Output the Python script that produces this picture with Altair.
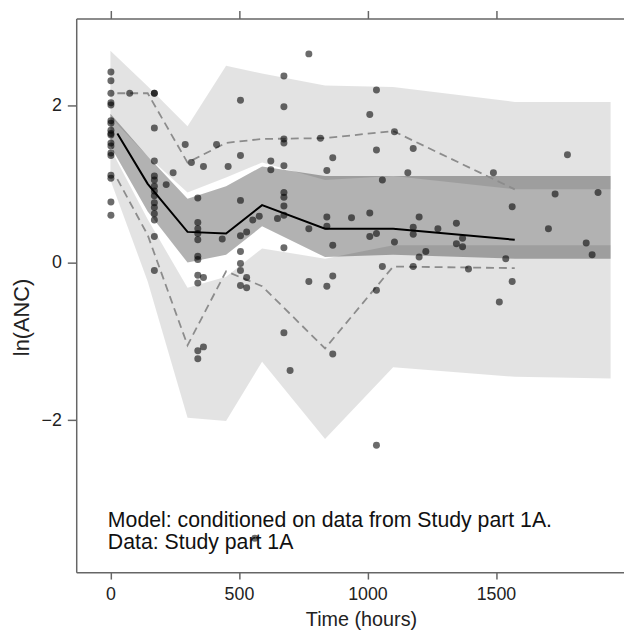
import altair as alt
import pandas as pd

# ---- simulated prediction bands (VPC) ----
band_time = [0, 145, 300, 450, 590, 835, 1100, 1573, 1946]
upper_pi_hi = [2.69, 2.24, 1.73, 2.50, 2.40, 2.25, 2.23, 2.04, 2.04]
upper_pi_lo = [1.85, 1.35, 0.89, 1.08, 1.27, 1.05, 1.10, 0.93, 0.93]
median_ci_hi = [1.89, 1.35, 0.81, 0.97, 1.22, 1.10, 1.10, 1.10, 1.10]
median_ci_lo = [1.48, 0.65, 0.00, 0.10, 0.46, 0.07, 0.10, 0.05, 0.05]
lower_pi_hi = [1.45, 0.55, -0.32, -0.18, 0.18, 0.05, 0.22, 0.22, 0.22]
lower_pi_lo = [1.05, -0.24, -1.97, -2.01, -1.26, -2.24, -1.33, -1.45, -1.47]

# ---- observed percentiles per time bin ----
bin_time = [27, 145, 300, 450, 590, 835, 1100, 1573]
obs_median = [1.64, 1.00, 0.39, 0.37, 0.73, 0.43, 0.43, 0.29]
obs_p95 = [2.15, 2.15, 1.27, 1.52, 1.57, 1.58, 1.67, 0.93]
obs_p05 = [1.06, 0.35, -1.05, -0.11, -0.30, -1.09, -0.05, -0.07]

# ---- observations ----
obs_time = (
    [2] * 18 + [75] + [171] * 15 + [217, 244, 291, 315] + [340] * 11 + [362] * 3
    + [413, 458, 435] + [506] * 8 + [530] * 3 + [554, 579, 624, 624, 650]
    + [675] * 11 + [699] + [772] * 3 + [817] + [842] * 4 + [865] * 4 + [938]
    + [1009] * 3 + [1035] * 5 + [1058] * 2 + [1105] * 2 + [1157] + [1178] * 4
    + [1201] * 2 + [1227, 1274] + [1346] * 2 + [1370] * 2 + [1393, 1490, 1513, 1538]
    + [1563] * 2 + [1704, 1730, 1778, 1851, 1874, 1897, 562]
)
obs_ln_anc = (
    [2.42, 2.31, 2.15, 2.03, 2.00, 1.80, 1.77, 1.68, 1.64, 1.62, 1.52, 1.48, 1.39,
     1.36, 1.11, 1.07, 0.77, 0.60]
    + [2.15]
    + [2.15, 2.15, 1.71, 1.29, 1.10, 1.05, 0.97, 0.91, 0.85, 0.76, 0.70, 0.62, 0.54,
       0.33, -0.10]
    + [0.99, 1.14, 1.50, 1.27]
    + [0.82, 0.51, 0.43, 0.37, 0.29, 0.08, 0.04, -0.16, -0.26, -1.12, -1.22]
    + [1.22, -0.19, -1.07]
    + [1.50, 1.22, 0.30]
    + [2.06, 1.36, 0.79, 0.34, 0.14, -0.01, -0.10, -0.29]
    + [0.39, -0.19, -0.32]
    + [0.54, 0.59, 1.29, 1.18, 0.56]
    + [2.37, 1.98, 1.57, 1.52, 1.23, 0.89, 0.83, 0.72, 0.60, 0.19, -0.89]
    + [-1.37]
    + [2.65, 0.43, -0.24]
    + [1.58]
    + [1.17, 0.58, 0.46, -0.30]
    + [1.33, 0.22, -0.17, -1.16]
    + [0.57]
    + [1.88, 0.63, 0.33]
    + [2.19, 1.43, 0.37, -0.35, -2.32]
    + [1.05, -0.05]
    + [1.66, 0.26]
    + [1.14]
    + [1.45, 0.45, 0.36, -0.05]
    + [0.58, 0.07]
    + [0.14, 0.43]
    + [0.50, 0.24]
    + [0.31, 0.20]
    + [-0.08, 1.14, -0.50, 0.05]
    + [0.71, -0.24]
    + [0.43, 0.87, 1.37, 0.25, 0.10, 0.89, -3.50]
)

x_ticks = [0, 500, 1000, 1500]
y_ticks = [-2, 0, 2]
annotation_lines = ["Model: conditioned on data from Study part 1A.", "Data: Study part 1A"]

FONT = "Liberation Sans"

bands = pd.DataFrame({
    "time": band_time,
    "up_hi": upper_pi_hi, "up_lo": upper_pi_lo,
    "md_hi": median_ci_hi, "md_lo": median_ci_lo,
    "lo_hi": lower_pi_hi, "lo_lo": lower_pi_lo,
})
lines = pd.DataFrame({"time": bin_time, "median": obs_median, "p95": obs_p95, "p05": obs_p05})
obs = pd.DataFrame({"time": obs_time, "value": obs_ln_anc})

xscale = alt.Scale(domain=[-133, 1998], nice=False, zero=False)
yscale = alt.Scale(domain=[-3.93, 3.10], nice=False, zero=False)

x_bottom = alt.X("time:Q", scale=xscale, axis=alt.Axis(
    orient="bottom", values=x_ticks, format="d", grid=False, tickSize=7, labelPadding=7,
    labelFontSize=18, labelFlush=False, title="Time (hours)", titleFontSize=20,
    titleFontWeight="normal", titleX=288, titleY=48, titleBaseline="middle",
    titleAlign="center"))
x_top = alt.X("time:Q", scale=xscale, axis=alt.Axis(
    orient="top", values=x_ticks, grid=False, tickSize=8, labels=False, title=None))
x_none = alt.X("time:Q", scale=xscale, axis=None)
y_axis = alt.Axis(
    orient="left", values=y_ticks, format="d", grid=False, tickSize=9, labelPadding=6,
    labelFontSize=18, title="ln(ANC)", titleFontSize=22, titleFontWeight="normal",
    titleX=-55, titleY=302, titleBaseline="middle", titleAlign="center")
y_enc = alt.Y("value:Q", scale=yscale, axis=y_axis)


def band_layer(hi, lo, opacity, xenc):
    return alt.Chart(bands).mark_area(color="black", opacity=opacity, interpolate="linear").encode(
        x=xenc,
        y=alt.Y(f"{hi}:Q", scale=yscale, axis=y_axis),
        y2=f"{lo}:Q",
    )


upper_band = band_layer("up_hi", "up_lo", 0.11, x_bottom)
lower_band = band_layer("lo_hi", "lo_lo", 0.11, x_none)
median_band = band_layer("md_hi", "md_lo", 0.30, x_none)

pct = lines.melt(id_vars="time", value_vars=["p95", "p05"], var_name="series", value_name="value")
dashed = alt.Chart(pct).mark_line(color="#8c8c8c", strokeWidth=1.8, strokeDash=[8, 5]).encode(
    x=x_none, y=y_enc, detail="series:N")
median_line = alt.Chart(lines).mark_line(color="black", strokeWidth=2).encode(
    x=x_top, y=alt.Y("median:Q", scale=yscale, axis=y_axis))

points = alt.Chart(obs).mark_circle(color="black", opacity=0.58, size=50).encode(
    x=x_none, y=y_enc)

text1 = alt.Chart(pd.DataFrame({"t": [annotation_lines[0]]})).mark_text(
    align="left", baseline="alphabetic", font=FONT, fontSize=21.5, color="#111111").encode(
    x=alt.value(32), y=alt.value(514), text="t:N")
text2 = alt.Chart(pd.DataFrame({"t": [annotation_lines[1]]})).mark_text(
    align="left", baseline="alphabetic", font=FONT, fontSize=21.5, color="#111111").encode(
    x=alt.value(32), y=alt.value(537), text="t:N")

chart = alt.layer(
    upper_band, lower_band, median_band, dashed, median_line, points, text1, text2
).resolve_axis(x="independent").properties(
    width=554, height=560,
    autosize=alt.AutoSizeParams(type="none"),
    padding={"left": 69, "top": 7, "right": 0, "bottom": 58},
).configure_view(stroke=None).configure_axis(
    domainColor="#666666", domainWidth=1.5, tickColor="#666666", tickWidth=1.5,
    labelColor="#222222", titleColor="#222222", labelFont=FONT, titleFont=FONT,
)

chart.save("out.html", embed_options={"renderer": "svg", "actions": False})
